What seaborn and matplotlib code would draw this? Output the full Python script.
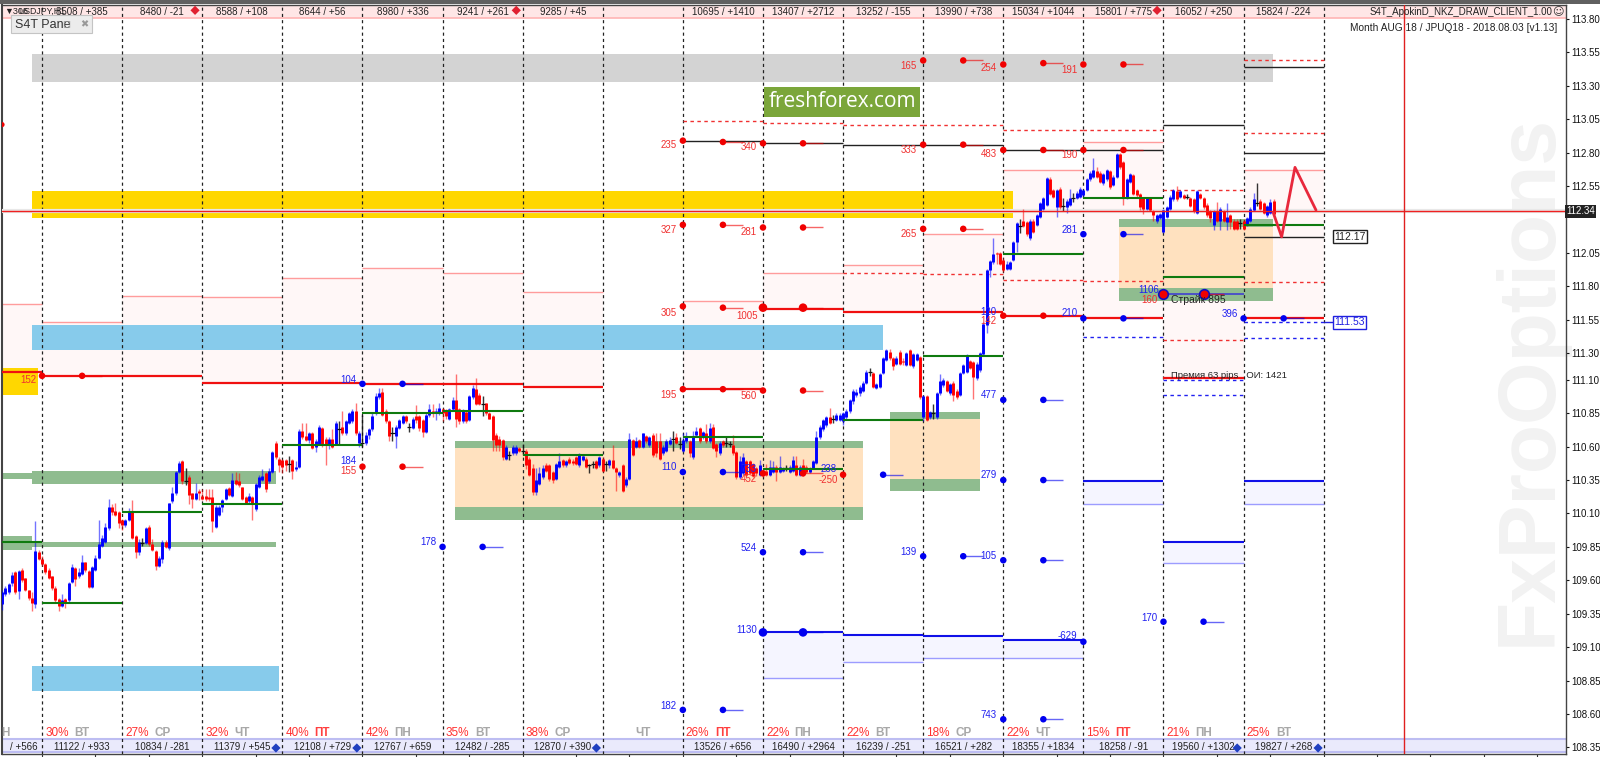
import numpy as np
import pandas as pd
import seaborn as sns
import matplotlib.pyplot as plt
from matplotlib.patches import Rectangle

# hourly candles, first bar is 12 hours before the first day line
opens = [
    109.42,109.50,109.51,109.58,109.66,109.52,109.68,109.62,109.53,109.47,109.42,109.81,
    109.76,109.72,109.68,109.63,109.54,109.46,109.41,109.46,109.45,109.59,109.69,109.63,
    109.65,109.74,109.67,109.55,109.68,109.77,109.86,109.89,109.99,110.15,110.12,110.11,
    110.05,110.01,110.05,110.12,109.93,109.81,109.88,109.88,110.00,109.87,109.82,109.71,
    109.76,109.89,109.84,110.19,110.25,110.41,110.49,110.34,110.37,110.25,110.21,110.27,
    110.23,110.23,110.22,110.22,110.00,110.09,110.15,110.21,110.29,110.23,110.35,110.34,
    110.30,110.22,110.19,110.22,110.13,110.30,110.35,110.40,110.34,110.41,110.63,110.51,
    110.50,110.50,110.47,110.50,110.43,110.45,110.72,110.68,110.65,110.70,110.60,110.62,
    110.74,110.66,110.62,110.66,110.62,110.73,110.75,110.70,110.78,110.79,110.87,110.63,
    110.63,110.63,110.69,110.73,110.85,110.97,111.01,110.87,110.79,110.70,110.68,110.74,
    110.78,110.83,110.75,110.74,110.83,110.83,110.80,110.71,110.84,110.87,110.85,110.86,
    110.88,110.87,110.81,110.88,110.95,110.88,110.79,110.86,110.80,110.97,111.03,110.99,
    110.92,110.93,110.85,110.83,110.69,110.66,110.65,110.51,110.54,110.55,110.55,110.59,
    110.57,110.57,110.51,110.44,110.26,110.32,110.37,110.46,110.46,110.41,110.36,110.45,
    110.50,110.46,110.51,110.49,110.52,110.46,110.50,110.51,110.46,110.47,110.49,110.46,
    110.51,110.47,110.46,110.50,110.44,110.39,110.46,110.31,110.36,110.65,110.60,110.65,
    110.60,110.68,110.61,110.69,110.64,110.64,110.55,110.57,110.62,110.66,110.67,110.62,
    110.57,110.64,110.64,110.52,110.69,110.74,110.67,110.70,110.64,110.75,110.62,110.55,
    110.64,110.63,110.62,110.61,110.56,110.37,110.40,110.49,110.49,110.47,110.44,110.39,
    110.42,110.42,110.39,110.41,110.45,110.41,110.42,110.44,110.41,110.42,110.46,110.39,
    110.46,110.45,110.41,110.44,110.48,110.67,110.73,110.76,110.82,110.81,110.80,110.80,
    110.79,110.82,110.87,110.94,110.99,111.00,111.02,111.08,111.16,111.15,111.04,111.05,
    111.15,111.25,111.31,111.26,111.22,111.31,111.24,111.21,111.32,111.20,111.25,111.27,
    110.82,110.98,110.82,110.85,110.82,111.00,111.06,111.09,111.00,111.08,111.02,110.99,
    111.15,111.16,111.24,111.23,111.11,111.17,111.29,111.51,111.92,111.98,112.05,112.05,
    112.00,111.93,111.93,112.00,112.13,112.25,112.29,112.28,112.16,112.29,112.26,112.32,
    112.38,112.41,112.60,112.52,112.39,112.53,112.40,112.39,112.41,112.46,112.46,112.47,
    112.48,112.52,112.60,112.62,112.66,112.65,112.57,112.60,112.66,112.56,112.62,112.79,
    112.73,112.46,112.58,112.63,112.52,112.49,112.46,112.38,112.46,112.36,112.29,112.31,
    112.21,112.32,112.38,112.45,112.51,112.47,112.48,112.47,112.46,112.45,112.35,112.49,
    112.46,112.41,112.36,112.26,112.36,112.29,112.36,112.28,112.33,112.29,112.29,112.27,
    112.29,112.26,112.29,112.37,112.42,112.44,112.42,112.33,112.35,112.44,
]
closes = [
    109.51,109.54,109.57,109.64,109.51,109.67,109.60,109.53,109.47,109.43,109.82,109.76,
    109.72,109.66,109.62,109.54,109.45,109.41,109.45,109.44,109.58,109.70,109.61,109.66,
    109.74,109.68,109.55,109.70,109.77,109.87,109.92,110.00,110.15,110.11,110.09,110.03,
    110.01,110.05,110.12,109.92,109.81,109.89,109.88,109.99,109.87,109.83,109.71,109.77,
    109.89,109.85,110.18,110.25,110.41,110.48,110.34,110.34,110.24,110.21,110.25,110.25,
    110.21,110.21,110.21,110.04,110.15,110.15,110.20,110.28,110.24,110.35,110.32,110.31,
    110.21,110.18,110.23,110.18,110.32,110.37,110.38,110.28,110.42,110.56,110.52,110.46,
    110.45,110.46,110.47,110.42,110.45,110.72,110.67,110.65,110.70,110.59,110.64,110.75,
    110.62,110.61,110.66,110.60,110.78,110.73,110.70,110.79,110.85,110.87,110.70,110.70,
    110.63,110.69,110.73,110.83,110.98,111.00,110.84,110.79,110.68,110.70,110.75,110.80,
    110.83,110.79,110.75,110.81,110.80,110.74,110.71,110.84,110.88,110.85,110.87,110.89,
    110.85,110.83,110.88,110.95,110.81,110.79,110.87,110.79,110.98,111.04,110.92,110.92,
    110.92,110.85,110.81,110.65,110.61,110.61,110.52,110.60,110.54,110.60,110.60,110.57,
    110.57,110.46,110.39,110.26,110.35,110.40,110.44,110.42,110.36,110.35,110.47,110.49,
    110.46,110.49,110.48,110.48,110.47,110.54,110.53,110.45,110.46,110.47,110.44,110.52,
    110.42,110.47,110.50,110.44,110.41,110.41,110.27,110.36,110.66,110.54,110.64,110.60,
    110.70,110.64,110.67,110.54,110.55,110.51,110.60,110.64,110.65,110.66,110.63,110.62,
    110.65,110.68,110.55,110.67,110.72,110.64,110.71,110.64,110.74,110.59,110.57,110.63,
    110.61,110.63,110.62,110.55,110.37,110.49,110.52,110.39,110.40,110.38,110.40,110.46,
    110.39,110.39,110.45,110.45,110.41,110.45,110.44,110.44,110.45,110.50,110.39,110.45,
    110.39,110.41,110.44,110.49,110.67,110.75,110.80,110.82,110.78,110.81,110.84,110.84,
    110.85,110.87,110.95,111.02,111.01,111.05,111.08,111.16,111.16,111.05,111.07,111.14,
    111.26,111.32,111.26,111.20,111.26,111.22,111.23,111.30,111.21,111.29,111.29,110.97,
    110.98,110.80,110.86,110.85,111.00,111.09,111.10,111.02,111.07,110.99,110.97,111.15,
    111.21,111.28,111.19,111.12,111.22,111.30,111.52,111.92,111.99,112.04,112.04,111.97,
    111.92,111.97,111.98,112.13,112.27,112.25,112.25,112.19,112.29,112.21,112.33,112.42,
    112.46,112.61,112.49,112.47,112.52,112.39,112.40,112.44,112.46,112.46,112.50,112.53,
    112.52,112.60,112.65,112.67,112.62,112.58,112.64,112.67,112.54,112.62,112.79,112.69,
    112.46,112.60,112.64,112.49,112.48,112.39,112.38,112.46,112.37,112.33,112.33,112.34,
    112.37,112.39,112.47,112.52,112.45,112.51,112.46,112.47,112.40,112.36,112.51,112.46,
    112.39,112.33,112.31,112.36,112.29,112.38,112.29,112.32,112.28,112.23,112.23,112.27,
    112.23,112.31,112.38,112.45,112.42,112.38,112.35,112.40,112.43,112.34,
]
highs = [
    109.53,109.56,109.58,109.66,109.67,109.68,109.69,109.62,109.53,109.51,110.04,109.83,
    109.78,109.73,109.69,109.63,109.56,109.47,109.50,109.47,109.59,109.72,109.70,109.69,
    109.79,109.74,109.68,109.71,109.79,110.05,109.94,110.03,110.21,110.17,110.18,110.12,
    110.06,110.06,110.14,110.20,109.94,109.91,109.92,110.00,110.01,109.91,109.83,109.78,
    109.90,109.90,110.18,110.30,110.42,110.49,110.50,110.44,110.39,110.25,110.33,110.28,
    110.28,110.28,110.28,110.28,110.16,110.16,110.21,110.29,110.30,110.40,110.41,110.40,
    110.30,110.23,110.25,110.23,110.33,110.39,110.43,110.41,110.44,110.57,110.64,110.52,
    110.51,110.51,110.53,110.51,110.49,110.73,110.78,110.78,110.71,110.71,110.66,110.76,
    110.75,110.67,110.67,110.73,110.79,110.79,110.87,110.80,110.86,110.88,110.93,110.72,
    110.84,110.71,110.74,110.85,111.00,111.04,111.04,110.88,110.80,110.75,110.76,110.81,
    110.84,110.84,110.78,110.82,110.91,110.84,110.81,110.85,110.92,110.92,110.89,110.93,
    110.89,110.88,110.89,110.97,111.14,110.89,110.88,110.87,110.99,111.06,111.11,111.00,
    110.98,110.93,110.86,110.84,110.70,110.68,110.66,110.61,110.57,110.61,110.61,110.60,
    110.62,110.58,110.52,110.47,110.44,110.45,110.46,110.48,110.47,110.42,110.48,110.55,
    110.51,110.50,110.52,110.51,110.53,110.55,110.54,110.52,110.47,110.49,110.50,110.53,
    110.52,110.49,110.51,110.61,110.45,110.42,110.47,110.37,110.70,110.66,110.67,110.66,
    110.70,110.69,110.68,110.70,110.70,110.70,110.61,110.66,110.67,110.72,110.70,110.67,
    110.70,110.71,110.65,110.72,110.75,110.75,110.72,110.77,110.78,110.77,110.63,110.64,
    110.65,110.67,110.64,110.69,110.57,110.53,110.55,110.50,110.50,110.48,110.45,110.50,
    110.43,110.47,110.50,110.49,110.46,110.53,110.45,110.46,110.46,110.53,110.53,110.46,
    110.51,110.46,110.45,110.50,110.72,110.76,110.81,110.83,110.89,110.84,110.85,110.85,
    110.86,110.88,110.96,111.03,111.03,111.06,111.09,111.17,111.19,111.16,111.08,111.15,
    111.27,111.33,111.33,111.27,111.28,111.32,111.26,111.31,111.33,111.30,111.30,111.28,
    110.99,110.99,110.87,110.92,111.01,111.14,111.11,111.10,111.08,111.09,111.03,111.16,
    111.22,111.29,111.25,111.24,111.23,111.31,111.53,111.93,112.00,112.16,112.06,112.06,
    112.01,111.99,111.99,112.14,112.28,112.30,112.38,112.29,112.30,112.30,112.34,112.43,
    112.47,112.62,112.62,112.53,112.53,112.54,112.46,112.45,112.53,112.50,112.51,112.54,
    112.53,112.61,112.66,112.76,112.69,112.66,112.65,112.68,112.67,112.63,112.80,112.80,
    112.74,112.61,112.65,112.64,112.53,112.50,112.47,112.47,112.47,112.37,112.34,112.35,
    112.38,112.40,112.48,112.53,112.55,112.52,112.49,112.49,112.47,112.46,112.52,112.50,
    112.47,112.42,112.37,112.37,112.43,112.39,112.37,112.42,112.34,112.30,112.30,112.30,
    112.30,112.32,112.39,112.50,112.57,112.45,112.43,112.41,112.45,112.45,
]
lows = [
    109.38,109.48,109.50,109.56,109.50,109.46,109.59,109.52,109.45,109.37,109.39,109.75,
    109.71,109.65,109.61,109.53,109.43,109.37,109.40,109.39,109.44,109.58,109.56,109.62,
    109.64,109.66,109.54,109.54,109.67,109.76,109.85,109.88,109.98,110.09,110.08,109.99,
    109.98,110.00,110.04,109.91,109.77,109.79,109.86,109.87,109.86,109.82,109.68,109.70,
    109.73,109.84,109.83,110.18,110.24,110.40,110.32,110.31,110.17,110.14,110.20,110.20,
    110.20,110.19,110.19,109.96,109.99,110.08,110.11,110.20,110.23,110.22,110.31,110.30,
    110.20,110.17,110.18,110.05,110.12,110.29,110.34,110.26,110.33,110.40,110.51,110.41,
    110.40,110.42,110.41,110.36,110.42,110.44,110.66,110.64,110.63,110.58,110.56,110.61,
    110.60,110.46,110.58,110.59,110.61,110.62,110.69,110.69,110.77,110.78,110.69,110.60,
    110.60,110.61,110.66,110.72,110.84,110.96,110.83,110.78,110.64,110.64,110.59,110.73,
    110.77,110.78,110.71,110.73,110.78,110.72,110.67,110.70,110.82,110.82,110.80,110.84,
    110.79,110.81,110.80,110.87,110.75,110.77,110.78,110.78,110.79,110.96,110.91,110.91,
    110.83,110.84,110.81,110.57,110.57,110.57,110.50,110.50,110.50,110.54,110.54,110.56,
    110.54,110.43,110.38,110.24,110.24,110.31,110.36,110.41,110.34,110.33,110.35,110.44,
    110.45,110.45,110.47,110.46,110.46,110.45,110.49,110.44,110.40,110.44,110.43,110.45,
    110.41,110.42,110.44,110.43,110.27,110.37,110.26,110.30,110.35,110.53,110.59,110.59,
    110.59,110.63,110.60,110.52,110.52,110.50,110.54,110.56,110.61,110.57,110.62,110.58,
    110.56,110.63,110.52,110.51,110.67,110.63,110.66,110.63,110.63,110.58,110.52,110.54,
    110.60,110.60,110.60,110.54,110.36,110.36,110.39,110.38,110.39,110.37,110.38,110.38,
    110.37,110.38,110.38,110.40,110.34,110.40,110.41,110.42,110.40,110.41,110.38,110.38,
    110.38,110.40,110.40,110.43,110.47,110.66,110.72,110.75,110.77,110.78,110.79,110.79,
    110.76,110.81,110.85,110.92,110.97,110.98,111.01,111.07,111.13,111.04,111.03,111.04,
    111.14,111.24,111.25,111.17,111.21,111.21,111.21,111.20,111.20,111.19,111.24,110.96,
    110.79,110.79,110.81,110.81,110.81,110.99,111.05,111.01,110.99,110.94,110.96,110.98,
    111.14,111.15,111.18,110.96,111.10,111.16,111.28,111.45,111.87,111.97,111.97,111.96,
    111.91,111.92,111.92,111.99,112.06,112.20,112.24,112.18,112.15,112.20,112.25,112.31,
    112.37,112.40,112.48,112.46,112.32,112.38,112.36,112.35,112.40,112.43,112.45,112.46,
    112.47,112.51,112.59,112.61,112.61,112.57,112.56,112.59,112.53,112.55,112.61,112.68,
    112.41,112.45,112.57,112.48,112.47,112.37,112.34,112.37,112.36,112.29,112.27,112.30,
    112.20,112.31,112.37,112.44,112.44,112.46,112.45,112.45,112.39,112.35,112.34,112.45,
    112.38,112.32,112.28,112.22,112.28,112.22,112.28,112.22,112.23,112.22,112.22,112.23,
    112.22,112.25,112.28,112.36,112.40,112.37,112.34,112.32,112.34,112.33,
]

# levels per day column, day 0 starts at the first dashed line
level_days = [-0.5, 0, 1, 2, 3, 4, 5, 6, 8, 9, 10, 11, 12, 13, 14, 15]
level_ends = [0, 1, 2, 3, 4, 5, 6, 7, 9, 10, 11, 12, 13, 14, 15, 16]
pink_tops = [111.67, 111.53, 111.73, 111.72, 111.86, 111.94, 111.90, 111.76,
             111.69, 111.90, 111.96, 112.19, 112.67, 112.88, 112.29, 112.67]
red_levels = [111.16, 111.13, 111.13, 111.08, 111.08, 111.07, 111.07, 111.05,
              111.03, 111.63, 111.61, 111.61, 111.58, 111.56, 111.11, 111.56]
green_days = [-0.5, 0, 1, 2, 3, 4, 5, 6, 8, 9, 10, 11, 12, 13, 14, 15]
green_ends = [0, 1, 2, 3, 4, 5, 6, 7, 9, 10, 11, 12, 13, 14, 15, 16]
green_levels = [109.89, 109.43, 110.11, 110.17, 110.61, 110.85, 110.87, 110.54,
                110.67, 110.43, 110.80, 111.28, 112.04, 112.46, 111.87, 112.26]
black_days = [8, 9, 10, 11, 12, 13, 14, 15, 15, 15]
black_levels = [112.89, 112.87, 112.86, 112.86, 112.82, 112.82, 113.01, 112.80, 113.44, 112.17]
dash_days = [8, 9, 10, 11, 12, 13, 14, 15, 15, 10, 11, 12, 13, 14, 15]
dash_levels = [113.04, 113.02, 113.01, 113.01, 112.97, 112.97, 112.52, 112.95, 113.49,
               111.90, 111.89, 111.85, 111.84, 111.40, 111.83]
blue_dash_days = [13, 14, 14, 15, 15]
blue_dash_levels = [111.42, 111.10, 110.99, 111.53, 111.41]
blue_days = [9, 10, 11, 12, 13, 14, 15]
blue_levels = [109.21, 109.19, 109.18, 109.15, 110.34, 109.89, 110.34]
blue_bottoms = [108.87, 108.99, 109.02, 109.02, 110.17, 109.73, 110.17]

# coloured zones: start day, end day, low, high
gray_zone = [-0.12, 15.37, 113.33, 113.54]
yellow_zone = [-0.12, 12.12, 112.31, 112.51]
yellow_small = [-0.5, -0.05, 110.99, 111.19]
sky_zones_start = [-0.12, -0.12]
sky_zones_end = [10.5, 2.96]
sky_zones_low = [111.32, 108.77]
sky_zones_high = [111.51, 108.96]
zone_start = [5.16, 10.58, 13.45]
zone_end = [10.25, 11.71, 15.37]
zone_top = [110.64, 110.86, 112.30]
zone_upper = [110.59, 110.81, 112.24]
zone_lower = [110.15, 110.36, 111.79]
zone_bottom = [110.05, 110.27, 111.69]
strip_start = [-0.12, -0.5, -0.12, -0.5]
strip_end = [2.92, -0.12, 2.92, -0.12]
strip_low = [110.32, 110.36, 109.85, 109.83]
strip_high = [110.42, 110.40, 109.89, 109.93]

red_dot_days = [0, 0.5, 4, 4.5, 8, 8.5, 9, 9.5, 11, 11.5, 12, 12.5, 13, 13.5, 11, 11.5, 12, 12.5, 13, 13.5,
                8, 8.5, 9, 9.5, 11, 11.5, 8, 8.5, 12, 12.5, 8, 8.5, 9, 9.5, 9, 9.5, 10]
red_dot_prices = [111.13, 111.13, 110.45, 110.45, 112.89, 112.88, 112.87, 112.87, 112.86, 112.86, 112.82, 112.82,
                  112.82, 112.82, 113.49, 113.49, 113.46, 113.47, 113.46, 113.46,
                  112.26, 112.26, 112.24, 112.24, 112.23, 112.23, 111.65, 111.64, 111.58, 111.58,
                  111.03, 111.03, 111.02, 111.02, 110.40, 110.40, 110.39]
edge_dot_day = [-0.5]
edge_dot_price = [113.01]
big_red_days = [9, 9.5, 14, 14.5]
big_red_prices = [111.64, 111.64, 111.74, 111.74]
blue_dot_days = [4, 4.5, 5, 5.5, 8, 8.5, 8, 8.5, 9, 9.5, 10.5, 11, 11.5, 12, 12.5, 12, 12.5, 12, 12.5, 12, 12.5,
                 13, 13.5, 13, 13.5, 13, 14, 14.5, 15, 15.5]
blue_dot_prices = [111.07, 111.07, 109.85, 109.85, 110.41, 110.41, 108.63, 108.63, 109.81, 109.81, 110.39,
                   109.78, 109.78, 110.95, 110.95, 110.35, 110.35, 109.75, 109.75, 108.56, 108.56,
                   112.19, 112.19, 111.56, 111.56, 109.14, 109.29, 109.29, 111.56, 111.56]
big_blue_days = [9, 9.5]
big_blue_prices = [109.21, 109.21]

forecast_bars = [368.9, 371.4, 375.4, 381.7]
forecast_prices = [112.35, 112.17, 112.69, 112.37]

red_text = ["235", "340", "333", "483", "190", "327", "281", "265", "305", "1005", "195", "560", "152", "155",
            "165", "254", "191", "-250", "452", "142", "160"]
red_text_days = [7.82, 8.82, 10.82, 11.82, 12.82, 7.82, 8.82, 10.82, 7.82, 8.80, 7.82, 8.82, -0.17, 3.82,
                 10.82, 11.82, 12.82, 9.81, 8.83, 11.82, 13.82]
red_text_prices = [112.86, 112.84, 112.82, 112.79, 112.78, 112.22, 112.21, 112.19, 111.60, 111.58, 110.99, 110.98,
                   111.10, 110.42, 113.45, 113.43, 113.42, 110.35, 110.36, 111.54, 111.70]
blue_text = ["104", "184", "178", "110", "524", "1130", "182", "733", "238", "477", "279", "139", "105", "743",
             "-629", "170", "281", "210", "396", "1106", "120"]
blue_text_days = [3.83, 3.82, 4.82, 7.83, 8.82, 8.80, 7.82, 8.82, 9.82, 11.82, 11.82, 10.82, 11.82, 11.82,
                  12.80, 13.82, 12.83, 12.83, 14.83, 13.82, 11.82]
blue_text_prices = [111.10, 110.49, 109.89, 110.45, 109.84, 109.23, 108.66, 110.43, 110.43, 110.99, 110.39, 109.81,
                    109.78, 108.59, 109.18, 109.32, 112.22, 111.60, 111.59, 111.77, 111.61]

top_labels = ["8508 / +385", "8480 / -21", "8588 / +108", "8644 / +56", "8980 / +336", "9241 / +261", "9285 / +45", "",
              "10695 / +1410", "13407 / +2712", "13252 / -155", "13990 / +738", "15034 / +1044", "15801 / +775",
              "16052 / +250", "15824 / -224"]
bottom_labels = ["11122 / +933", "10834 / -281", "11379 / +545", "12108 / +729", "12767 / +659", "12482 / -285",
                 "12870 / +390", "", "13526 / +656", "16490 / +2964", "16239 / -251", "16521 / +282",
                 "18355 / +1834", "18258 / -91", "19560 / +1302", "19827 / +268"]
percents = ["30%", "27%", "32%", "40%", "42%", "35%", "38%", "", "26%", "22%", "22%", "18%", "22%", "15%", "21%", "25%"]
weekdays = ["ВТ", "СР", "ЧТ", "ПТ", "ПН", "ВТ", "СР", "ЧТ", "ПТ", "ПН", "ВТ", "СР", "ЧТ", "ПТ", "ПН", "ВТ"]
red_diamond_days = [1.91, 5.92, 13.92]
blue_diamond_days = [2.92, 3.93, 6.92, 14.92, 15.93]

price_ticks = [113.80, 113.55, 113.30, 113.05, 112.80, 112.55, 112.05, 111.80, 111.55, 111.30, 111.10,
               110.85, 110.60, 110.35, 110.10, 109.85, 109.60, 109.35, 109.10, 108.85, 108.60, 108.35]
last_level = 112.36
now_bar = 408.1

BARS = 24  # hourly bars in one day column
NARROW = ["Liberation Sans Narrow", "Liberation Sans", "DejaVu Sans"]

sns.set_style("white")
plt.rcParams["font.family"] = ["Liberation Sans", "DejaVu Sans"]

fig = plt.figure(figsize=(16, 7.57), dpi=100)
ax = fig.add_axes([2 / 1600, 3 / 757, 1564 / 1600, 749 / 757])
ax.set_xlim(-12, 456.6)
ax.set_ylim(108.30, 113.905)


def band(start, end, low, high, color, z=1):
    ax.fill_between([start * BARS, end * BARS], low, high, color=color, lw=0, zorder=z)


# watermark sits under everything
ax.text(1530 / 1600, 1 - 380 / 757, "FxProOptions", rotation=90, color="#F2F2F2", fontsize=58,
        fontweight="bold", ha="center", va="center", zorder=0.5, family=NARROW,
        transform=fig.transFigure, clip_on=False)

# pale zones behind the levels
for d, e, top, bottom in zip(level_days, level_ends, pink_tops, red_levels):
    band(d, e, bottom, top, "#FFF7F7", 1)
    ax.hlines(top, d * BARS, e * BARS, color="#FF9C9C", lw=1, zorder=2)
for d, top, bottom in zip(blue_days, blue_levels, blue_bottoms):
    band(d, d + 1, bottom, top, "#F5F5FF", 1)
    ax.hlines(bottom, d * BARS, (d + 1) * BARS, color="#9C9CFF", lw=1, zorder=2)

band(*gray_zone, "#D3D3D3", 2)
band(*yellow_zone, "#FFD700", 2)
band(*yellow_small, "#FFD700", 2)
for s, e, lo, hi in zip(sky_zones_start, sky_zones_end, sky_zones_low, sky_zones_high):
    band(s, e, lo, hi, "#87CBEB", 2)
for s, e, lo, hi in zip(strip_start, strip_end, strip_low, strip_high):
    band(s, e, lo, hi, "#8FBC8F", 2)
for s, e, top, up, lw_, bot in zip(zone_start, zone_end, zone_top, zone_upper, zone_lower, zone_bottom):
    band(s, e, lw_, up, "#FFE1BF", 2)
    band(s, e, up, top, "#8FBC8F", 2)
    band(s, e, bot, lw_, "#8FBC8F", 2)

# day separators
day_lines = np.arange(0, 17) * BARS
ax.vlines(day_lines, 108.30, 113.905, color="#222222", lw=0.9, linestyles=(0, (2.5, 2.5)), zorder=3)

# top and bottom info strips
ax.axhspan(113.805, 113.905, facecolor="#FFE6E6", edgecolor="none", zorder=2)
ax.axhline(113.805, color="#FFB4B4", lw=1.2, zorder=2)
ax.axhspan(108.31, 108.41, facecolor="#EAEAFC", edgecolor="none", zorder=2)
ax.axhline(108.41, color="#BDBDF2", lw=1.5, zorder=2)
ax.axhline(108.315, color="#BDBDF2", lw=1.5, zorder=2)

# level lines
for d, e, p in zip(level_days, level_ends, red_levels):
    ax.hlines(p, d * BARS, e * BARS, color="#F01010", lw=1.6, zorder=4)
for d, e, p in zip(green_days, green_ends, green_levels):
    ax.hlines(p, d * BARS, e * BARS, color="#0F7A0F", lw=1.5, zorder=6)
for d, p in zip(black_days, black_levels):
    ax.hlines(p, d * BARS, (d + 1) * BARS, color="#222222", lw=1, zorder=4)
for d, p in zip(dash_days, dash_levels):
    ax.hlines(p, d * BARS, (d + 1) * BARS, color="#F03030", lw=1, linestyles=(0, (2.5, 2.5)), zorder=4)
for d, p in zip(blue_dash_days, blue_dash_levels):
    ax.hlines(p, d * BARS, (d + 1) * BARS, color="#2020F0", lw=1, linestyles=(0, (2.5, 2.5)), zorder=4)
for d, p in zip(blue_days, blue_levels):
    ax.hlines(p, d * BARS, (d + 1) * BARS, color="#1010E8", lw=1.5, zorder=4)
ax.hlines(111.74, 14 * BARS, 15 * BARS, color="#4040D0", lw=1.2, zorder=4)

# candles
bars = np.arange(-12, -12 + len(opens))
candles = pd.DataFrame({"bar": bars, "open": opens, "close": closes, "high": highs, "low": lows})
for kind, col in [("up", "#0000FF"), ("down", "#FF0000"), ("flat", "#111111")]:
    if kind == "up":
        part = candles[candles["close"] > candles["open"]]
    elif kind == "down":
        part = candles[candles["close"] < candles["open"]]
    else:
        part = candles[candles["close"] == candles["open"]]
    ax.vlines(part["bar"], part["low"], part["high"], color=col, lw=1, alpha=0.55 if kind != "flat" else 0.85,
              zorder=5)
    if kind == "flat":
        ax.hlines(part["close"], part["bar"] - 0.6, part["bar"] + 0.6, color=col, lw=0.9, zorder=5)
    else:
        ax.vlines(part["bar"], part[["open", "close"]].min(axis=1), part[["open", "close"]].max(axis=1),
                  color=col, lw=2.1, zorder=5)

# bid line and now line
ax.axhline(last_level, color="#E8E8E8", lw=3, zorder=3)
ax.axhline(last_level, color="#F02020", lw=1, zorder=7)
ax.axvline(now_bar, color="#E02020", lw=1, zorder=7)

# forecast path
path = pd.DataFrame({"bar": forecast_bars, "price": forecast_prices})
sns.lineplot(data=path, x="bar", y="price", sort=False, color="#E8283C", lw=2, ax=ax, zorder=8)

# option dots with their short tails
for days, prices, col, size in [(red_dot_days, red_dot_prices, "#F00000", 22),
                                (blue_dot_days, blue_dot_prices, "#0000F0", 22),
                                (big_red_days, big_red_prices, "#F00000", 38),
                                (big_blue_days, big_blue_prices, "#0000F0", 38)]:
    dots = pd.DataFrame({"bar": np.array(days) * BARS, "price": prices})
    half = dots[(np.array(days) % 1) == 0.5]
    ax.hlines(half["price"], half["bar"], half["bar"] + 6, color=col, lw=1, alpha=0.6, zorder=8)
    sns.scatterplot(data=dots, x="bar", y="price", color=col, s=size, edgecolor="none", ax=ax, zorder=9, legend=False)
sns.scatterplot(x=np.array(edge_dot_day) * BARS, y=edge_dot_price, color="#F00000", s=14, edgecolor="none", ax=ax,
                zorder=9, legend=False)
ax.scatter([14 * BARS, 14.5 * BARS], [111.74, 111.74], s=48, facecolor="#F00000", edgecolor="#1010C0", lw=1.2, zorder=10)

# level numbers
for t, d, p in zip(red_text, red_text_days, red_text_prices):
    ax.text(d * BARS, p, t, color="#F03030", fontsize=7, family=NARROW, ha="center", va="center", zorder=10)
for t, d, p in zip(blue_text, blue_text_days, blue_text_prices):
    ax.text(d * BARS, p, t, color="#2020F0", fontsize=7, family=NARROW, ha="center", va="center", zorder=10)
ax.text(14.09 * BARS, 111.70, "Страйк 895", color="#222222", fontsize=7.5, va="center", zorder=10)
ax.text(14.09 * BARS, 111.13, "Премия 63 pips   ОИ: 1421", color="#222222", fontsize=6.8, family=NARROW, va="center", zorder=10)

# strip labels
for i in range(16):
    mid = (i + 0.5) * BARS
    ax.text(mid, 113.85, top_labels[i], fontsize=7, family=NARROW, color="#222222", ha="center", va="center", zorder=10)
    ax.text(mid, 108.355, bottom_labels[i], fontsize=7, family=NARROW, color="#222222", ha="center", va="center", zorder=10)
    ax.text(i * BARS + 0.9, 108.455, percents[i], fontsize=8.5, color="#FF3030", family=NARROW, va="center", zorder=10)
    wd_col = "#FF4040" if weekdays[i] == "ПТ" else "#A8A8A8"
    ax.text(mid, 108.46, weekdays[i], fontsize=8.5, color=wd_col, fontweight="bold", ha="center", va="center", zorder=10)
ax.text(-0.06 * BARS, 108.355, "/ +566", fontsize=7, family=NARROW, color="#222222", ha="right", va="center", zorder=10)
ax.text(-0.46 * BARS, 108.46, "Н", fontsize=8.5, color="#A8A8A8", fontweight="bold", ha="center", va="center", zorder=10)

sns.scatterplot(x=np.array(red_diamond_days) * BARS, y=[113.865] * 3, marker="D", s=22, color="#E02030",
                edgecolor="none", ax=ax, zorder=10, legend=False)
sns.scatterplot(x=np.array(blue_diamond_days) * BARS, y=[108.345] * 5, marker="D", s=22, color="#2040C0",
                edgecolor="none", ax=ax, zorder=10, legend=False)

# header texts
ax.text(-11.3, 113.855, "▼306", fontsize=6.5, color="#222222", family=NARROW, va="center", zorder=11)
ax.text(-7.2, 113.858, "USDJPY,H1", fontsize=6.3, color="#222222", family=NARROW, va="center", zorder=10)
ax.text(452.5, 113.855, "S4T_ApokinD_NKZ_DRAW_CLIENT_1.00", fontsize=7, family=NARROW, color="#222222",
        ha="right", va="center", zorder=10)
ax.text(456, 113.855, "☺", fontsize=8, family="DejaVu Sans", color="#333333", ha="right", va="center", zorder=10)
ax.text(454, 113.735, "Month AUG 18 / JPUQ18 - 2018.08.03 [v1.13]", fontsize=7.3, family=NARROW, color="#222222",
        ha="right", va="center", zorder=10)

# freshforex badge
ax.text(239.7, 113.18, "freshforex.com", fontsize=15, color="white", ha="center", va="center", zorder=11,
        family="Open Sans", bbox=dict(boxstyle="square,pad=0.22", facecolor="#7BA63A", edgecolor="none"))

# price tags at the right
ax.text(1.0, last_level, "112.34", transform=ax.get_yaxis_transform(), fontsize=7, color="white", ha="left",
        va="center", zorder=12, clip_on=False, bbox=dict(boxstyle="square,pad=0.15", facecolor="#222222", edgecolor="none"))
ax.text(16.13 * BARS, 112.17, "112.17", fontsize=7.5, color="#222222", va="center", zorder=12,
        bbox=dict(boxstyle="square,pad=0.15", facecolor="white", edgecolor="#222222", lw=1))
ax.text(16.13 * BARS, 111.53, "111.53", fontsize=7.5, color="#2020E0", va="center", zorder=12,
        bbox=dict(boxstyle="square,pad=0.15", facecolor="white", edgecolor="#2020E0", lw=1))
ax.hlines(111.53, 16 * BARS, 16.13 * BARS, color="#2020E0", lw=1, zorder=5)

ax.yaxis.tick_right()
ax.set_yticks(price_ticks)
ax.set_yticklabels([f"{t:.2f}" for t in price_ticks])
ax.set_xticks(np.arange(0, 460, 16))
ax.tick_params(axis="y", direction="out", length=2.5, width=0.8, pad=1, labelsize=7, colors="#111111", right=True)
ax.tick_params(axis="x", direction="out", length=3, width=0.8, labelbottom=False, colors="#333333", bottom=True)
ax.set_xlabel("")
ax.set_ylabel("")
for side in ["left", "right", "bottom", "top"]:
    ax.spines[side].set_color("#444444")
    ax.spines[side].set_linewidth(1)
ax.spines["left"].set_linewidth(1.5)

# window chrome: top strip and the floating pane box
fig.patches.append(Rectangle((0, 1 - 4 / 757), 1, 4 / 757, transform=fig.transFigure, facecolor="#606060", edgecolor="none"))
fig.patches.append(Rectangle((11 / 1600, 1 - 33 / 757), 81 / 1600, 18 / 757, transform=fig.transFigure,
                             facecolor="#ECECEC", edgecolor="#C4C4C4", lw=0.8, zorder=12))
fig.text(15 / 1600, 1 - 24.5 / 757, "S4T Pane", fontsize=9, color="#333333", va="center", zorder=13)
fig.text(62 / 1600, 1 - 24.5 / 757, "◻", fontsize=7, color="#999999", va="center", family="DejaVu Sans", zorder=13)
fig.text(80 / 1600, 1 - 24.5 / 757, "✖", fontsize=7, color="#999999", va="center", family="DejaVu Sans", zorder=13)

fig.savefig("out.png", dpi=100)
